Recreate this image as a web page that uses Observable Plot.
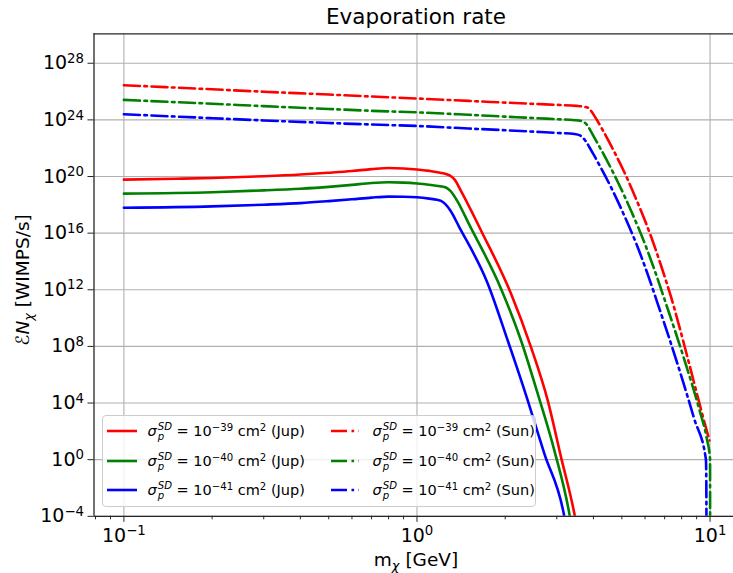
<!DOCTYPE html>
<html><head><meta charset="utf-8">
<script src="https://cdn.jsdelivr.net/npm/d3@7"></script>
<script src="https://cdn.jsdelivr.net/npm/@observablehq/plot@0.6"></script>
<style>
body{margin:0;background:#fff;overflow:hidden;font-family:"DejaVu Sans",sans-serif}
#wrap{position:relative;width:733px;height:573px;overflow:hidden}
#legend{position:absolute;left:101.5px;top:415px;width:434px;height:92px;box-sizing:border-box;border:1px solid #cccccc;border-radius:4px;background:rgba(255,255,255,0.8);font-family:"DejaVu Sans",sans-serif;font-size:14.5px;color:#000}
#legend .it{position:absolute;white-space:nowrap;line-height:1}
#legend svg{position:absolute}
.ss{display:inline-flex;flex-direction:column;font-size:0.7em;line-height:1;vertical-align:0.55em;margin-left:1px}
sup{font-size:0.7em;vertical-align:0.5em;line-height:0}
</style></head><body><div id="wrap"></div>
<script>
// x axis: dark-matter mass m_chi [GeV]; y: evaporation rate, stored as log10 of WIMPS/s
const jup39Mass = [0.1, 0.15, 0.2, 0.3, 0.4, 0.5, 0.6, 0.7, 0.8, 0.9, 1.0, 1.1, 1.2, 1.27, 1.306, 1.34, 1.42, 1.654, 2.094, 2.449, 2.793, 3.101, 3.443, 3.5];
const jup39Log  = [19.78, 19.84, 19.9, 20.02, 20.14, 20.27, 20.39, 20.52, 20.6, 20.57, 20.5, 20.4, 20.27, 20.14, 20.02, 19.82, 18.9, 16.19, 11.72, 7.95, 4.19, 0.18, -3.81, -4.6];
const jup40Mass = [0.1, 0.2, 0.3, 0.4, 0.5, 0.6, 0.7, 0.8, 0.9, 1.0, 1.1, 1.2, 1.256, 1.3, 1.37, 1.508, 1.935, 2.265, 2.582, 2.942, 3.31, 3.36];
const jup40Log  = [18.79, 18.89, 19.02, 19.14, 19.27, 19.41, 19.54, 19.59, 19.57, 19.51, 19.42, 19.31, 19.22, 18.98, 18.3, 16.6, 12.08, 8.42, 4.66, 0.66, -3.81, -4.6];
const jup41Mass = [0.1, 0.2, 0.3, 0.4, 0.5, 0.6, 0.7, 0.8, 0.9, 1.0, 1.1, 1.17, 1.208, 1.25, 1.3, 1.394, 1.743, 2.04, 2.387, 2.72, 3.168, 3.22];
const jup41Log  = [17.79, 17.89, 18.01, 18.12, 18.26, 18.39, 18.51, 18.58, 18.57, 18.53, 18.44, 18.36, 18.28, 18.05, 17.6, 16.43, 12.45, 8.42, 4.19, 0.42, -3.81, -4.6];
const sun39Mass = [0.1, 0.2, 0.3, 0.5, 0.7, 1.0, 1.5, 2.0, 2.5, 3.0, 3.5, 3.85, 3.92, 4.03, 4.3, 4.71, 5.1, 5.6, 6.29, 6.8, 7.36, 8.4, 9.31, 9.95];
const sun39Log  = [26.45, 26.16, 25.99, 25.79, 25.65, 25.51, 25.34, 25.22, 25.13, 25.06, 24.99, 24.85, 24.65, 24.28, 23.29, 21.75, 20.3, 18.39, 15.76, 13.73, 11.49, 7.13, 3.56, 1.36];
const sun40Mass = [0.1, 0.2, 0.3, 0.5, 0.7, 1.0, 1.5, 2.0, 2.5, 3.0, 3.4, 3.65, 3.8, 3.9, 4.03, 4.4, 4.84, 5.4, 5.97, 6.5, 6.98, 8.17, 9.19, 9.75, 10.0, 10.005];
const sun40Log  = [25.41, 25.14, 24.97, 24.77, 24.64, 24.53, 24.36, 24.23, 24.13, 24.05, 23.99, 23.92, 23.65, 23.28, 22.75, 21.32, 19.63, 17.49, 15.33, 13.26, 11.37, 7.07, 3.54, 1.48, 0.05, -5];
const sun41Mass = [0.1, 0.2, 0.3, 0.5, 0.7, 1.0, 1.5, 2.0, 2.5, 3.0, 3.45, 3.6, 3.75, 3.88, 4.03, 4.59, 5.1, 5.66, 6.15, 6.63, 7.76, 8.83, 9.68, 9.71, 9.72, 9.73];
const sun41Log  = [24.4, 24.12, 23.96, 23.78, 23.67, 23.57, 23.39, 23.27, 23.17, 23.08, 23.0, 22.9, 22.55, 22.05, 21.45, 19.25, 17.23, 15.02, 13.0, 11.01, 6.7, 2.89, 0.02, -1.5, -3.8, -5];

const seriesNames = ["jup39", "jup40", "jup41", "sun39", "sun40", "sun41"];
const seriesColors = ["#ff0000", "#008000", "#0000ff", "#ff0000", "#008000", "#0000ff"];
const seriesExp = ["−39", "−40", "−41", "−39", "−40", "−41"];
const seriesBody = ["Jup", "Jup", "Jup", "Sun", "Sun", "Sun"];

const xMajorTicks = [0.1, 1, 10];
const xMinorTicks = [0.08, 0.09, 0.2, 0.3, 0.4, 0.5, 0.6, 0.7, 0.8, 0.9, 2, 3, 4, 5, 6, 7, 8, 9];
const yMajorTicks = [1e-4, 1e0, 1e4, 1e8, 1e12, 1e16, 1e20, 1e24, 1e28];

const masses = [jup39Mass, jup40Mass, jup41Mass, sun39Mass, sun40Mass, sun41Mass];
const logs = [jup39Log, jup40Log, jup41Log, sun39Log, sun40Log, sun41Log];

const rows = seriesNames.map((name, i) => masses[i].map((m, j) => ({m, v: 10 ** logs[i][j], name})));

const W = 733, H = 573;
const mL = 93.5, mT = 33.3, mB = H - 515.8, mR = 0;
const xDom = [10 ** -1.102, 10 ** 1.080];
const yDom = [1e-4, 10 ** 30.08];
const tickFont = 19;
const supFmt = d => "10^" + String(Math.round(Math.log10(d))).replace("-", "−");

const marks = [
  Plot.gridX(xMajorTicks, {stroke: "#b0b0b0", strokeOpacity: 1, strokeWidth: 1.1}),
  Plot.gridY(yMajorTicks, {stroke: "#b0b0b0", strokeOpacity: 1, strokeWidth: 1.1}),
];
rows.forEach((r, i) => {
  const isSun = i >= 3;
  marks.push(Plot.line(r, {x: "m", y: "v", stroke: seriesColors[i], strokeWidth: 2.6, clip: true, curve: "monotone-x",
    strokeDasharray: isSun ? "16,4.5,2.6,4.5" : null, strokeLinejoin: "round"}));
});
marks.push(
  Plot.ruleX([xDom[0]], {stroke: "#262626", strokeWidth: 1.3}),
  Plot.ruleY([yDom[0], yDom[1]], {stroke: "#262626", strokeWidth: 1.3}),
  Plot.axisX(xMinorTicks, {tickSize: 3.5, tickFormat: () => "", stroke: "#262626"}),
  Plot.axisX(xMajorTicks, {tickSize: 6, tickPadding: 6, tickFormat: supFmt, fontSize: tickFont, stroke: "#262626", fill: "#000"}),
  Plot.axisY(yMajorTicks, {tickSize: 6, tickPadding: 4, tickFormat: supFmt, fontSize: tickFont, stroke: "#262626", fill: "#000"})
);

const chart = Plot.plot({
  width: W, height: H,
  marginLeft: mL, marginRight: mR, marginTop: mT, marginBottom: mB,
  style: {fontFamily: "DejaVu Sans, sans-serif", background: "#fff"},
  x: {type: "log", domain: xDom, label: null},
  y: {type: "log", domain: yDom, label: null},
  marks
});

const svg = d3.select(chart);
svg.selectAll('g[aria-label="x-axis tick label"] text, g[aria-label="y-axis tick label"] text').each(function () {
  const t = this.textContent;
  const m = t.match(/^10\^(.*)$/);
  if (!m) return;
  this.textContent = "";
  const s = d3.select(this);
  s.append("tspan").text("10");
  s.append("tspan").attr("dy", "-0.48em").attr("font-size", "0.7em").text(m[1]);
});

// title
svg.append("text").attr("x", 416).attr("y", 24).attr("text-anchor", "middle")
  .attr("font-size", 21.5).attr("fill", "#000").text("Evaporation rate");
// x label
const xl = svg.append("text").attr("x", 416).attr("y", 566).attr("text-anchor", "middle")
  .attr("font-size", 18.5).attr("fill", "#000");
xl.append("tspan").text("m");
xl.append("tspan").attr("dy", "0.3em").attr("font-size", "0.7em").attr("font-style", "italic").text("χ");
xl.append("tspan").attr("dy", "-0.21em").text(" [GeV]");
// y label
const yl = svg.append("text").attr("transform", "translate(29,280) rotate(-90)").attr("text-anchor", "middle")
  .attr("font-size", 18.5).attr("fill", "#000");
yl.append("tspan").attr("font-style", "italic").text("ℰN");
yl.append("tspan").attr("dy", "0.3em").attr("font-size", "0.7em").attr("font-style", "italic").text("χ");
yl.append("tspan").attr("dy", "-0.21em").text(" [WIMPS/s]");

const wrap = document.getElementById("wrap");
wrap.appendChild(chart);

// legend
const leg = document.createElement("div");
leg.id = "legend";
const rowY = [15, 45, 74];
seriesNames.forEach((name, i) => {
  const col = i < 3 ? 0 : 1;
  const r = i % 3;
  const lx = col === 0 ? 4 : 228;
  const tx = col === 0 ? 45 : 270;
  const sv = document.createElementNS("http://www.w3.org/2000/svg", "svg");
  sv.setAttribute("width", 32); sv.setAttribute("height", 8);
  sv.style.left = lx + "px"; sv.style.top = (rowY[r] - 4) + "px";
  const ln = document.createElementNS("http://www.w3.org/2000/svg", "line");
  ln.setAttribute("x1", 0); ln.setAttribute("x2", col === 0 ? 30 : 28);
  ln.setAttribute("y1", 4); ln.setAttribute("y2", 4);
  ln.setAttribute("stroke", seriesColors[i]); ln.setAttribute("stroke-width", 2.6);
  if (col === 1) ln.setAttribute("stroke-dasharray", "16,4.5,2.6,4.5");
  sv.appendChild(ln);
  leg.appendChild(sv);
  const t = document.createElement("div");
  t.className = "it";
  t.style.left = tx + "px"; t.style.top = (rowY[r] - 9) + "px";
  t.innerHTML = `<i>σ</i><span class="ss"><i>SD</i><i>p</i></span> = 10<sup>${seriesExp[i]}</sup> cm<sup>2</sup> (${seriesBody[i]})`;
  leg.appendChild(t);
});
wrap.appendChild(leg);
</script>
</body></html>
